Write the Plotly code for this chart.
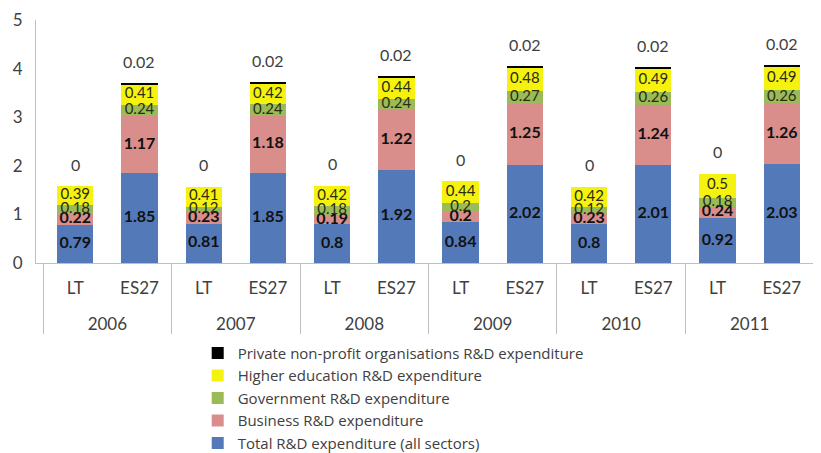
import plotly.graph_objects as go

years = ["2006", "2007", "2008", "2009", "2010", "2011"]
regions = ["LT", "ES27"]

total_lt = [0.79, 0.81, 0.8, 0.84, 0.8, 0.92]
business_lt = [0.22, 0.23, 0.19, 0.2, 0.23, 0.24]
government_lt = [0.18, 0.12, 0.18, 0.2, 0.12, 0.18]
higher_lt = [0.39, 0.41, 0.42, 0.44, 0.42, 0.5]
private_lt = [0, 0, 0, 0, 0, 0]

total_es = [1.85, 1.85, 1.92, 2.02, 2.01, 2.03]
business_es = [1.17, 1.18, 1.22, 1.25, 1.24, 1.26]
government_es = [0.24, 0.24, 0.24, 0.27, 0.26, 0.26]
higher_es = [0.41, 0.42, 0.44, 0.48, 0.49, 0.49]
private_es = [0.02, 0.02, 0.02, 0.02, 0.02, 0.02]

names = [
    "Total R&D expenditure (all sectors)",
    "Business R&D expenditure",
    "Government R&D expenditure",
    "Higher education R&D expenditure",
    "Private non-profit organisations R&D expenditure",
]
colors = ["#5479B8", "#D98E8C", "#9BBB59", "#F5F20F", "#000000"]

# year labels sit one line lower than the region labels
x_year = []
x_reg = []
for y in years:
    for r in regions:
        x_year.append("<br>" + y)
        x_reg.append(r)


def interleave(a, b):
    out = []
    for u, v in zip(a, b):
        out += [u, v]
    return out


series = [
    interleave(total_lt, total_es),
    interleave(business_lt, business_es),
    interleave(government_lt, government_es),
    interleave(higher_lt, higher_es),
    interleave(private_lt, private_es),
]

FONT = "Lato"
fig = go.Figure()
for nm, vals, col in zip(names, series, colors):
    fig.add_trace(go.Bar(
        x=[x_year, x_reg], y=vals, name=nm,
        marker=dict(color=col, line=dict(width=0)),
        textposition="none", hoverinfo="skip",
    ))

# segment value labels, centred in each stacked segment
base = [0.0] * len(x_year)
for i, vals in enumerate(series[:4]):
    centers = [b + v / 2 for b, v in zip(base, vals)]
    bold = i < 2
    fig.add_trace(go.Scatter(
        x=[x_year, x_reg], y=centers, mode="text",
        text=[f"{v:g}" for v in vals], textposition="middle center",
        textfont=dict(family=FONT, size=16 if bold else 15,
                      color="#111111" if bold else "#2b2b10",
                      weight="bold" if bold else "normal"),
        showlegend=False, hoverinfo="skip",
    ))
    base = [b + v for b, v in zip(base, vals)]

# labels for the top (private non-profit) series, above each stack
totals = [b + v for b, v in zip(base, series[4])]
for k in range(len(x_year)):
    fig.add_annotation(
        x=k, y=totals[k], xref="x", yref="y",
        text=f"{series[4][k]:g}", showarrow=False, yshift=22,
        font=dict(family=FONT, size=16, color="#404040"),
    )

fig.update_layout(
    barmode="stack",
    bargap=0.435,
    width=813, height=445,
    margin=dict(l=28, r=0, t=12, b=190, autoexpand=False),
    plot_bgcolor="white", paper_bgcolor="white",
    font=dict(family=FONT, color="#404040", size=15),
    legend=dict(
        traceorder="reversed", orientation="v",
        x=0.206, y=-0.304, xanchor="left", yanchor="top",
        font=dict(family="Open Sans", size=15, color="#404040"),
        itemwidth=30, tracegroupgap=0,
        bgcolor="rgba(0,0,0,0)",
    ),
    showlegend=True,
)
fig.update_yaxes(
    range=[0, 5], dtick=1, showgrid=False, zeroline=False,
    showline=True, linecolor="#BFBFBF", linewidth=1,
    tickfont=dict(family=FONT, size=17, color="#404040"),
    ticks="", ticklabelstandoff=9, automargin=False,
)
fig.update_xaxes(
    type="multicategory", showline=True, linecolor="#BFBFBF", linewidth=1,
    showdividers=True, dividercolor="#BFBFBF", dividerwidth=1,
    tickfont=dict(family=FONT, size=17, color="#404040"),
    ticks="", ticklabelstandoff=10, automargin=False,
)
fig.write_html("out.html")
